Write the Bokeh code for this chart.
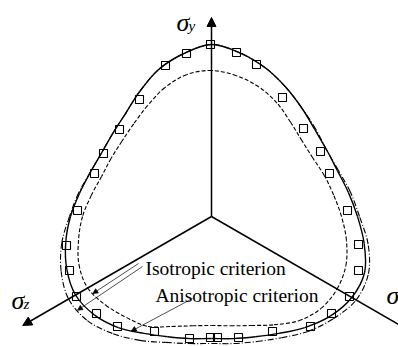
import numpy as np
from bokeh.plotting import figure
from bokeh.models import Range1d, Label, Arrow, NormalHead, ColumnDataSource
from bokeh.embed import file_html
from bokeh.resources import INLINE

# Polar angle of each sampled point on the yield loci (deg, counter-clockwise from +x)
angles_deg = list(range(0, 360, 10))

# Anisotropic criterion (solid locus)
r_aniso = [146, 139, 134, 133, 135, 141, 149, 158, 166, 172,
           165, 156, 144, 134, 129, 127, 129, 134, 141, 148,
           154, 157, 153, 145, 135, 128, 124, 122, 124, 128,
           135, 145, 155, 162, 163, 155]

# Isotropic criterion, inner locus (dashed)
r_iso_inner = [130, 124, 120, 117, 118, 123, 131, 138, 143, 146,
               144, 137, 128, 121, 117, 116, 117, 122, 129, 135,
               141, 143, 138, 132, 127, 117, 111, 109, 111, 116,
               125, 136, 143, 145, 143, 137]

# Isotropic criterion, outer locus (dash-dot)
r_iso_outer = [148, 141, 135, 133, 136, 141, 149, 158, 166, 172,
               165, 156, 144, 134, 129, 127, 129, 135, 142, 152,
               160, 165, 162, 153, 143, 134, 129, 127, 129, 133,
               140, 150, 159, 167, 167, 159]

# Experimental points in the deviatoric plane
exp_x = [-1, -25, -46, -72, -92, -108, -117, -134, -145, -142, -135, -115,
         -94, -57, -22, -1, 6, 27, 61, 99, 120, 138, 147, 147, 136, 118,
         109, 92, 71, 45, 25]
exp_y = [172, 163, 151, 117, 87, 63, 43, 6, -29, -54, -80, -97,
         -110, -115, -122, -121, -121, -121, -115, -110, -97, -80, -54, -28,
         6, 43, 65, 88, 119, 152, 164]

# Principal stress axes: direction (deg) and drawn length
axis_angles = [90, 210, 330]
axis_lengths = [199, 218, 228]

SERIF = "Liberation Serif"


def locus_points(radii):
    th = np.deg2rad(np.array(angles_deg, dtype=float))
    r = np.array(radii, dtype=float)
    return r * np.cos(th), r * np.sin(th)


def smooth_closed(radii):
    """Closed Catmull-Rom path through the sampled points, as cubic Bezier pieces."""
    x, y = locus_points(radii)
    xm1, ym1 = np.roll(x, 1), np.roll(y, 1)
    xp1, yp1 = np.roll(x, -1), np.roll(y, -1)
    xp2, yp2 = np.roll(x, -2), np.roll(y, -2)
    return dict(x0=x, y0=y, x1=xp1, y1=yp1,
                cx0=x + (xp1 - xm1) / 6, cy0=y + (yp1 - ym1) / 6,
                cx1=xp1 - (xp2 - x) / 6, cy1=yp1 - (yp2 - y) / 6)


def point_on(radii, ang):
    th = np.array(angles_deg + [360], dtype=float)
    r = np.array(radii + [radii[0]], dtype=float)
    rr = np.interp(ang, th, r)
    t = np.deg2rad(ang)
    return rr * np.cos(t), rr * np.sin(t)


p = figure(width=398, height=346, x_range=Range1d(-211, 187), y_range=Range1d(-130, 216),
           output_backend="svg", toolbar_location=None, min_border=0)
p.axis.visible = False
p.grid.visible = False
p.outline_line_color = None
p.background_fill_color = "white"
p.border_fill_color = "white"

# Stress axes
for ang, length in zip(axis_angles, axis_lengths):
    t = np.deg2rad(ang)
    p.add_layout(Arrow(x_start=0, y_start=0, x_end=length * np.cos(t), y_end=length * np.sin(t),
                       line_width=1.5, line_color="black",
                       end=NormalHead(size=9, fill_color="black", line_color="black")))

# Yield loci
p.bezier(source=ColumnDataSource(smooth_closed(r_iso_inner)),
         line_color="black", line_width=1.1, line_dash="4 2")
p.bezier(source=ColumnDataSource(smooth_closed(r_iso_outer)),
         line_color="black", line_width=1.1, line_dash="6 2 1 2")
p.bezier(source=ColumnDataSource(smooth_closed(r_aniso)),
         line_color="black", line_width=1.4)

# Experimental data
src = ColumnDataSource(dict(x=exp_x, y=exp_y))
p.scatter("x", "y", source=src, marker="square", size=8, line_color="black",
          line_width=1.1, fill_color="white", fill_alpha=0.0)


# Axis labels
def sigma_label(x, y, sub, dx=12, dy=-3):
    p.add_layout(Label(x=x, y=y, text="σ", text_font=SERIF, text_font_style="italic",
                       text_font_size="26px", text_baseline="alphabetic", text_color="black"))
    p.add_layout(Label(x=x + dx, y=y + dy, text=sub, text_font=SERIF, text_font_style="italic",
                       text_font_size="15px", text_baseline="alphabetic", text_color="black"))


sigma_label(-35, 194, "y")
sigma_label(-200, -84, "z")
p.add_layout(Label(x=175, y=-79, text="σ", text_font=SERIF, text_font_style="italic",
                   text_font_size="26px", text_baseline="alphabetic", text_color="black"))

# Curve annotations with leader arrows
p.add_layout(Label(x=-66, y=-52, text="Isotropic criterion", text_font=SERIF,
                   text_font_size="19.5px", text_baseline="alphabetic", text_color="black"))
p.add_layout(Label(x=-56, y=-79, text="Anisotropic criterion", text_font=SERIF,
                   text_font_size="19.5px", text_baseline="alphabetic", text_color="black"))

leaders = [((-73, -47), r_iso_inner, 213),
           ((-69, -50), r_iso_outer, 215),
           ((-19, -82), r_aniso, 235)]
for (tx, ty), radii, ang in leaders:
    hx, hy = point_on(radii, ang)
    p.add_layout(Arrow(x_start=tx, y_start=ty, x_end=hx, y_end=hy, line_width=0.7,
                       line_color="black",
                       end=NormalHead(size=5, fill_color="black", line_color="black", line_width=0.7)))

open("out.html", "w").write(file_html(p, INLINE))
